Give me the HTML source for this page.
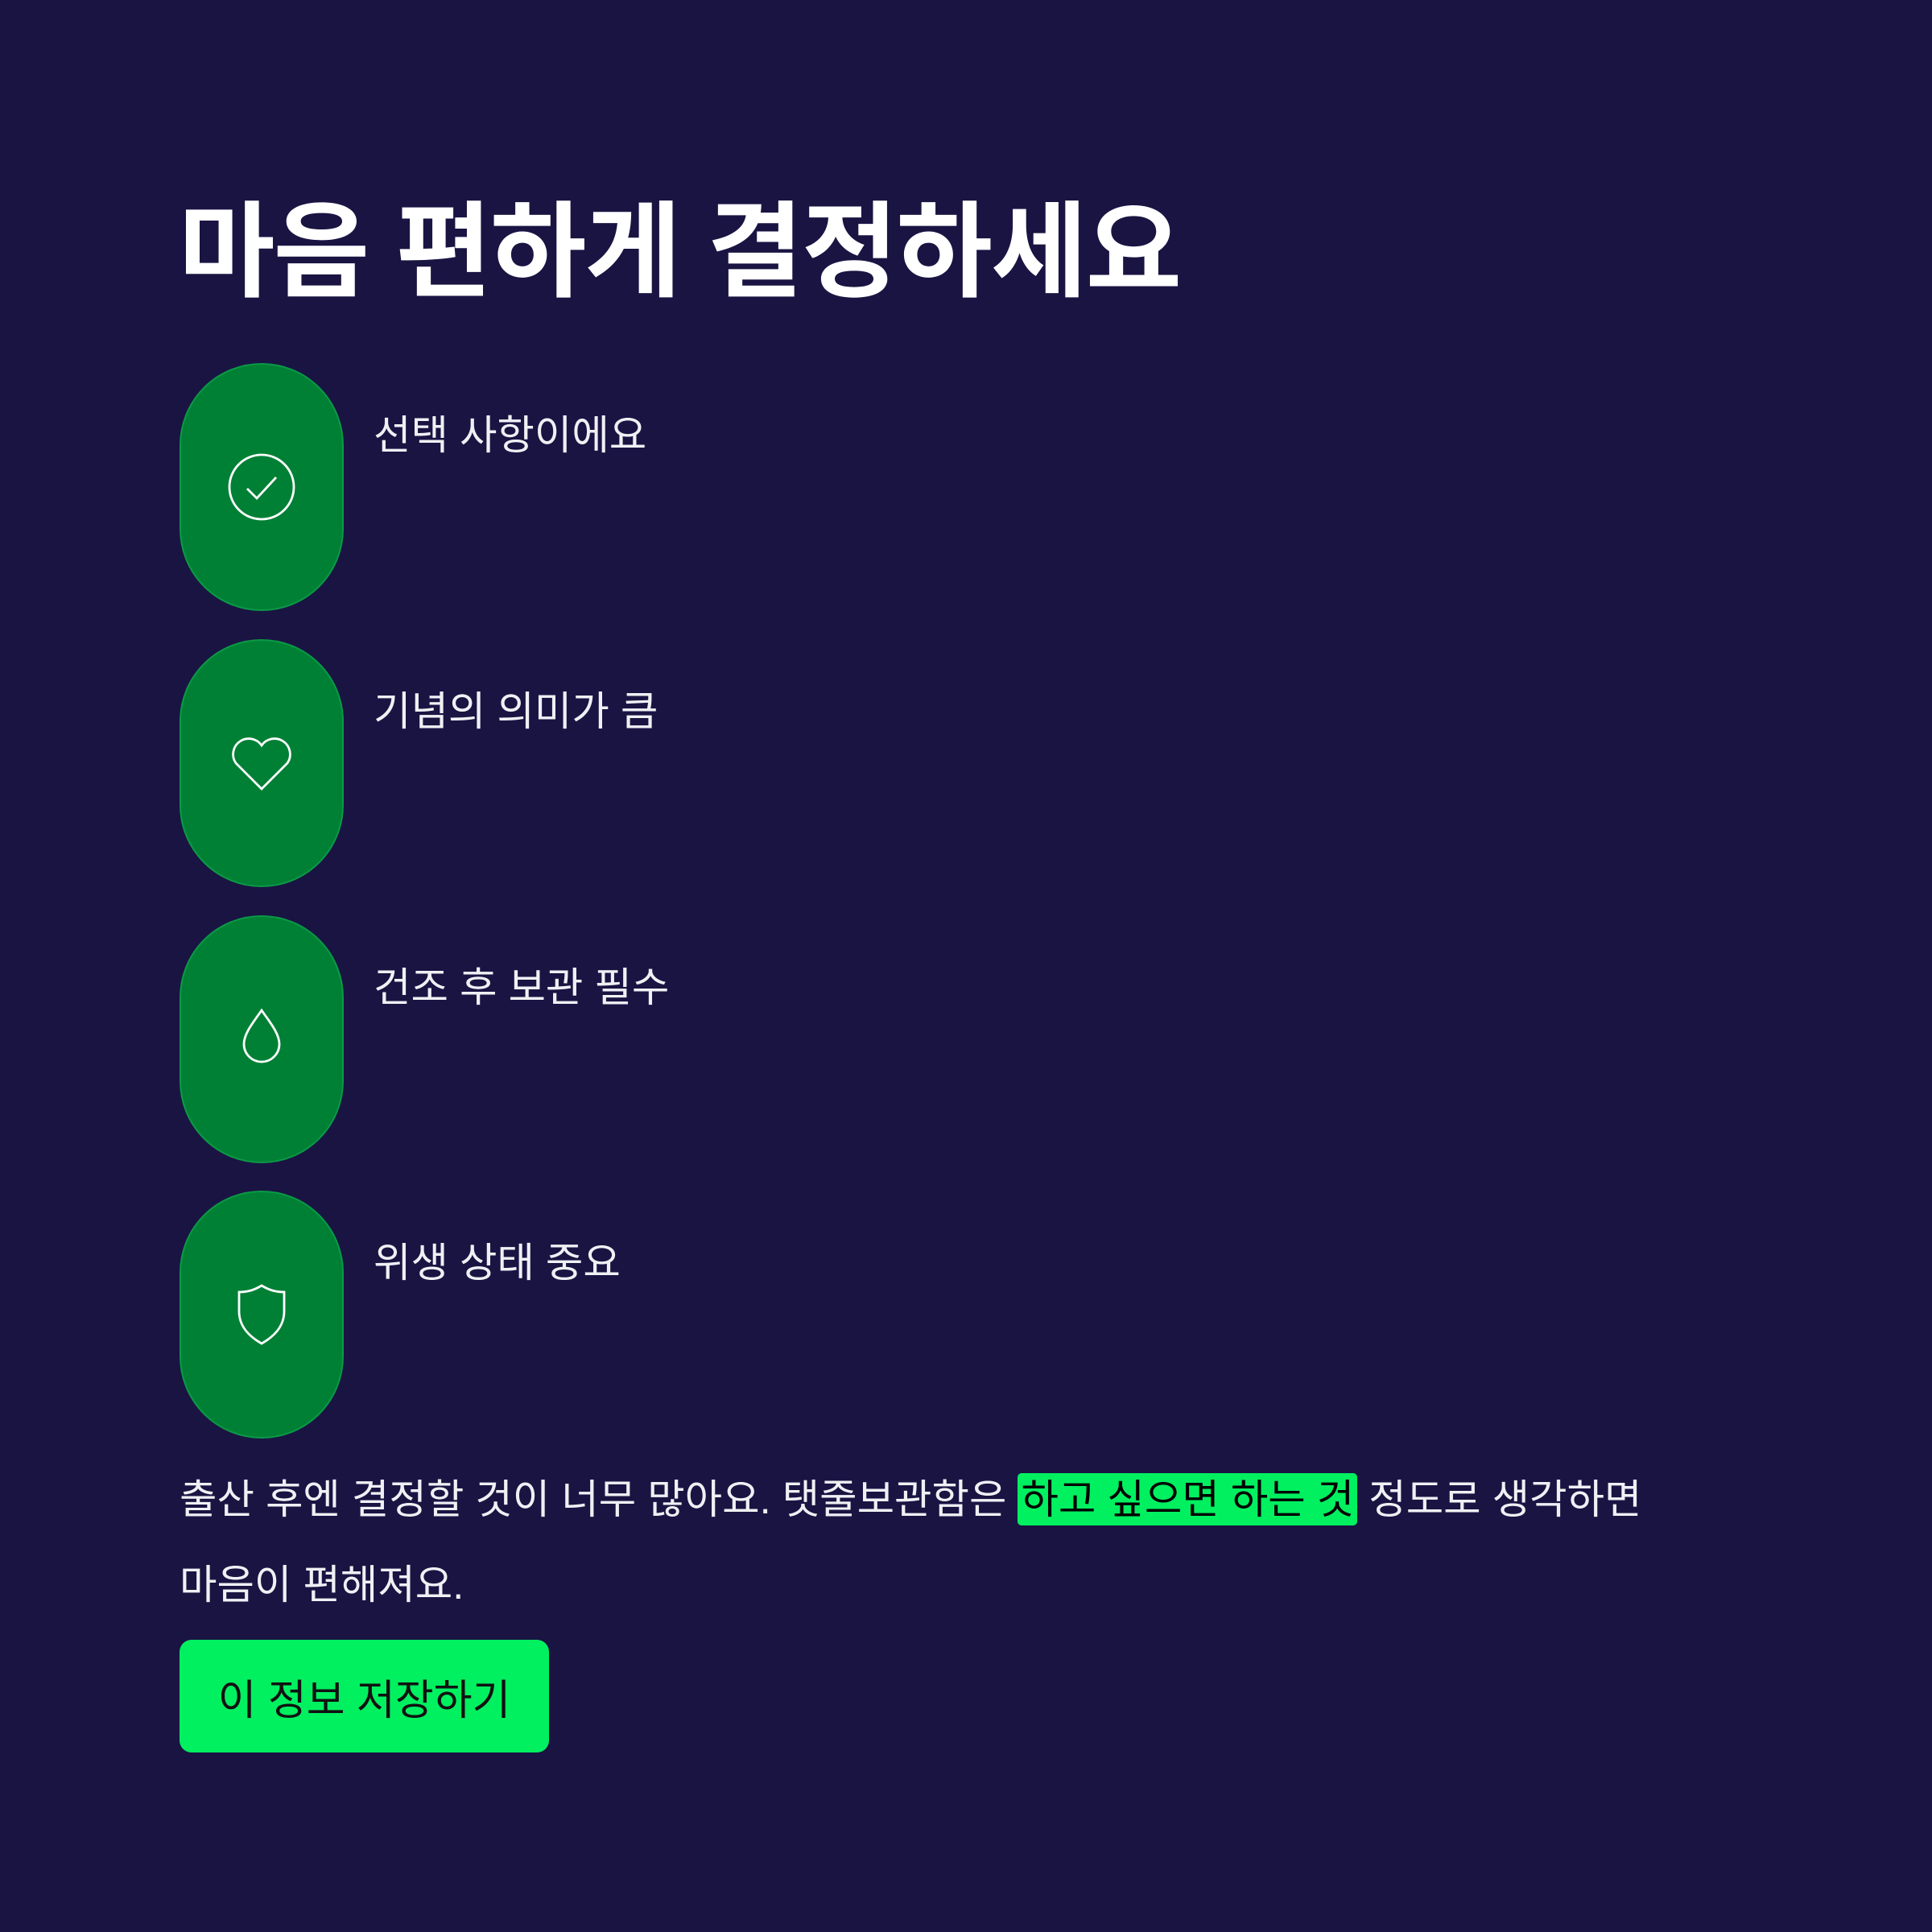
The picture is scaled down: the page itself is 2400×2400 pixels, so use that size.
<!DOCTYPE html>
<html><head><meta charset="utf-8"><style>
html,body{margin:0;padding:0}
body{width:2400px;height:2400px;background:#1a1443;position:relative;overflow:hidden;font-family:"Liberation Sans","Noto Sans CJK KR",sans-serif;color:#fff}
.t{position:absolute;left:222px;top:248px;font-size:130px;font-weight:700;line-height:1;letter-spacing:-2px;white-space:nowrap}
.pill{position:absolute;left:223px;width:204px;height:308px;border-radius:102px;background:#008035;border:2px solid #0a9a45;box-sizing:border-box;display:flex;align-items:center;justify-content:center}
.lab{position:absolute;left:464px;font-size:50.5px;line-height:1;white-space:nowrap;color:#f0f0f4}
.p{position:absolute;left:223px;font-size:50.5px;line-height:1;white-space:nowrap;color:#f0f0f4}
.hl{background:#00f060;color:#000;border-radius:5px;padding:4px 4px}
.btn{position:absolute;left:223px;top:2037px;width:459px;height:140px;border-radius:15px;background:#00f060;color:#111;font-size:52px;display:flex;align-items:center;justify-content:center}
</style></head><body>
<div class="t">마음 편하게 결정하세요</div>

<div class="pill" style="top:451px"><svg width="96" height="96" viewBox="0 0 24 24" fill="none" stroke="#fff" stroke-width="0.7"><circle cx="12" cy="12" r="10"/><path d="M7.5 12.5l3 3 6-6.5"/></svg></div>
<div class="lab" style="top:516px">선택 사항이에요</div>

<div class="pill" style="top:794px"><svg width="96" height="96" viewBox="0 0 24 24" fill="none" stroke="#fff" stroke-width="0.7"><path d="M12 20L4 12a4.5 4.5 0 0 1 8-5.5A4.5 4.5 0 0 1 20 12z"/></svg></div>
<div class="lab" style="top:859px">기념의 의미가 큼</div>

<div class="pill" style="top:1137px"><svg width="96" height="96" viewBox="0 0 24 24" fill="none" stroke="#fff" stroke-width="0.7"><path d="M12 3C10 6 6.5 10 6.5 13.5a5.5 5.5 0 0 0 11 0C17.5 10 14 6 12 3z"/></svg></div>
<div class="lab" style="top:1202px">건조 후 보관 필수</div>

<div class="pill" style="top:1479px"><svg width="96" height="96" viewBox="0 0 24 24" fill="none" stroke="#fff" stroke-width="0.7"><path d="M12 3c2.5 1.5 4.5 2 7 2v6c0 5-3.5 8-7 10-3.5-2-7-5-7-10V5c2.5 0 4.5-.5 7-2z"/></svg></div>
<div class="lab" style="top:1544px">위생 상태 중요</div>

<div class="p" style="top:1838px">출산 후엔 결정할 것이 너무 많아요. 탯줄보관함은 <span class="hl">하고 싶으면 하는 것</span> 정도로 생각하면</div>
<div class="p" style="top:1944px">마음이 편해져요.</div>
<div class="btn">이 정보 저장하기</div>
</body></html>
